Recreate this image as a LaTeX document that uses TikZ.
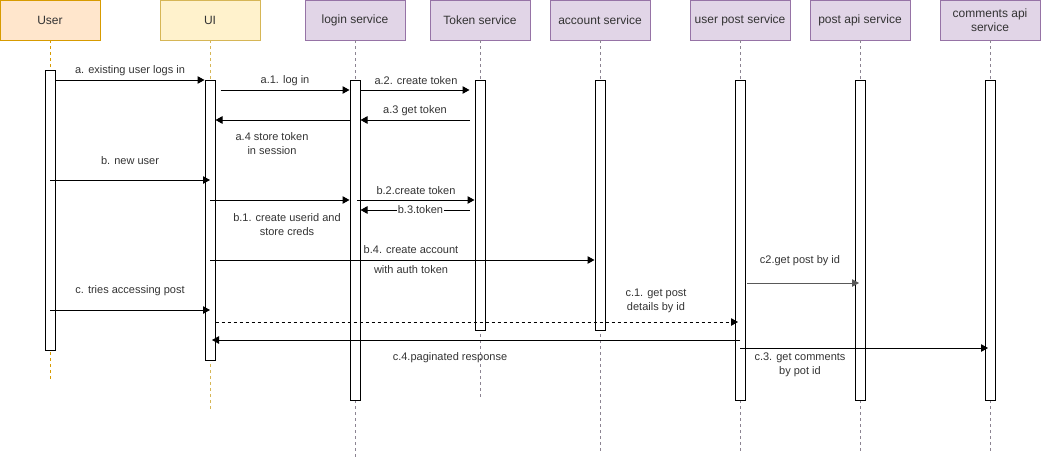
\documentclass[tikz,border=0pt]{standalone}
\usepackage{fontspec}
\setmainfont{Liberation Sans}
\usetikzlibrary{arrows.meta}
\definecolor{orfill}{HTML}{FFE6CC}
\definecolor{ordraw}{HTML}{D79B00}
\definecolor{yefill}{HTML}{FFF2CC}
\definecolor{yedraw}{HTML}{D6B656}
\definecolor{pufill}{HTML}{E1D5E7}
\definecolor{pudraw}{HTML}{9673A6}
\definecolor{txt}{HTML}{333333}
\definecolor{lifegray}{HTML}{8C8492}
\tikzset{
  hdr/.style={draw, minimum width=100pt, minimum height=40pt, inner sep=1pt, align=center,
    text=txt, font=\fontsize{12}{14}\selectfont},
  orhdr/.style={hdr, fill=orfill, draw=ordraw},
  yehdr/.style={hdr, fill=yefill, draw=yedraw},
  puhdr/.style={hdr, fill=pufill, draw=pudraw},
  life/.style={dash pattern=on 3pt off 3pt, line width=0.7pt},
  bar/.style={draw=black, fill=white, minimum width=10pt, inner sep=0pt, line width=1pt},
  msg/.style={draw=black, line width=1pt, -{Triangle[length=7pt,width=7.5pt]}},
  lbl/.style={text=txt, font=\fontsize{11}{14}\selectfont, align=center, inner sep=1pt}
}
\begin{document}
\begin{tikzpicture}[x=1pt,y=-1pt]
\useasboundingbox (0,0) rectangle (1041,461);
% headers
\node[orhdr] (hUser) at (50,20) {User};
\node[yehdr] (hUI) at (210,20) {UI};
\node[puhdr] (hLogin) at (355,20) {login service};
\node[puhdr] (hTok) at (480,20) {Token service};
\node[puhdr] (hAcc) at (600,20) {account service};
\node[puhdr] (hUP) at (740,20) {user post service};
\node[puhdr] (hPA) at (860,20) {post api service};
\node[puhdr] (hCA) at (990,20) {comments api\\service};
% lifeline ends
\coordinate (eUser) at (50,380);
\coordinate (eUI) at (210,410);
\coordinate (eLogin) at (355,457);
\coordinate (eTok) at (480,397);
\coordinate (eAcc) at (600,451);
\coordinate (eUP) at (740,451);
\coordinate (ePA) at (860,451);
\coordinate (eCA) at (990,451);
\draw[life, draw=ordraw] (hUser.south) -- (eUser);
\draw[life, draw=yedraw] (hUI.south) -- (eUI);
\foreach \h/\e in {hLogin/eLogin, hTok/eTok, hAcc/eAcc, hUP/eUP, hPA/ePA, hCA/eCA}
  \draw[life, draw=lifegray] (\h.south) -- (\e);
% activation bars
\node[bar, minimum height=280pt] (bUser) at (50,210) {};
\node[bar, minimum height=280pt] (bUI) at (210,220) {};
\node[bar, minimum height=320pt] (bLogin) at (355,240) {};
\node[bar, minimum height=250pt] (bTok) at (480,205) {};
\node[bar, minimum height=250pt] (bAcc) at (600,205) {};
\node[bar, minimum height=320pt] (bUP) at (740,240) {};
\node[bar, minimum height=320pt] (bPA) at (860,240) {};
\node[bar, minimum height=320pt] (bCA) at (990,240) {};
% messages a
\draw[msg] (bUser.east |- 0,80) -- (bUI.west |- 0,80);
\node[lbl] (la) at (130,71) {a. existing user logs in};
\draw[msg] ([xshift=5pt]bUI.east |- 0,90) -- (bLogin.west |- 0,90);
\node[lbl] (la1) at (285,81) {a.1. log in};
\draw[msg] (bLogin.east |- 0,90) -- ([xshift=-5pt]bTok.west |- 0,90);
\node[lbl] (la2) at (416,81) {a.2. create token};
\draw[msg] ([xshift=-5pt]bTok.west |- 0,120) -- (bLogin.east |- 0,120);
\node[lbl] (la3) at (415,111) {a.3 get token};
\draw[msg] (bLogin.west |- 0,120) -- (bUI.east |- 0,120);
\node[lbl] (la4) at (272,144) {a.4 store token\\in session};
% messages b
\draw[msg] (bUser.center |- 0,180) -- (bUI.center |- 0,180);
\node[lbl] (lb) at (130,161) {b. new user};
\draw[msg] (bUI.center |- 0,200) -- (bLogin.west |- 0,200);
\node[lbl] (lb1) at (287,225) {b.1. create userid and\\store creds};
\draw[msg] ([xshift=2pt]bLogin.center |- 0,200) -- (bTok.west |- 0,200);
\node[lbl] (lb2) at (416,191) {b.2.create token};
\draw[msg] ([xshift=-5pt]bTok.west |- 0,210) -- (bLogin.east |- 0,210)
  node[lbl, pos=0.45, fill=white, inner sep=1pt] (lb3) {b.3.token};
\draw[msg] (bUI.center |- 0,260) -- (bAcc.west |- 0,260);
\node[lbl] (lb4) at (411,250) {b.4. create account};
\node[lbl] (lb4b) at (411,270) {with auth token};
% messages c
\draw[msg] (bUser.center |- 0,310) -- (bUI.center |- 0,310);
\node[lbl] (lc) at (130,291) {c. tries accessing post};
\draw[msg, dashed] (bUI.east |- 0,322) -- ([xshift=-2pt]bUP.center |- 0,322);
\node[lbl] (lc1) at (656,301) {c.1. get post\\details by id};
\draw[msg, draw=black!65] ([xshift=7pt]bUP.center |- 0,283) -- ([xshift=-1pt]bPA.center |- 0,283);
\node[lbl] (lc2) at (800,261) {c2.get post by id};
\draw[msg] (bUP.center |- 0,340) -- ([xshift=2pt]bUI.center |- 0,340);
\node[lbl] (lc4) at (450,358) {c.4.paginated response};
\draw[msg] (bUP.center |- 0,348) -- ([xshift=-2pt]bCA.center |- 0,348);
\node[lbl] (lc3) at (800,365) {c.3. get comments\\by pot id};
\end{tikzpicture}
\end{document}
